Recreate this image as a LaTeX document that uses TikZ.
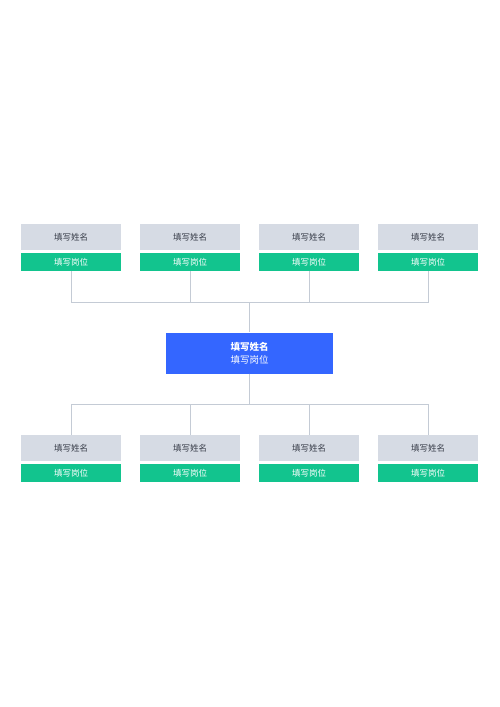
\documentclass[tikz,border=0pt]{standalone}
\usepackage{fontspec}
\newfontfamily\cjk{Noto Sans CJK SC}
\usetikzlibrary{positioning}

\definecolor{namegray}{RGB}{214,219,228}
\definecolor{postgreen}{RGB}{18,196,142}
\definecolor{bossblue}{RGB}{52,102,255}
\definecolor{linegray}{RGB}{196,203,213}
\definecolor{textdark}{RGB}{55,60,72}

\begin{document}
\begin{tikzpicture}[x=1pt,y=-1pt,font=\cjk\fontsize{8.5}{10}\selectfont,
    namebox/.style={fill=namegray,text=textdark,minimum width=100pt,minimum height=26pt,inner sep=0pt},
    postbox/.style={fill=postgreen,text=white,minimum width=100pt,minimum height=18pt,inner sep=0pt},
    bossbox/.style={fill=bossblue,text=white,minimum width=167pt,minimum height=41pt,inner sep=0pt,align=center,
      font=\cjk\fontsize{9.5}{13}\selectfont},
    link/.style={draw=linegray,line width=0.9pt}]
  \useasboundingbox (0,0) rectangle (500,707);

  % top row
  \foreach \i/\x in {1/71,2/190,3/309,4/428} {
    \node[namebox] (tn\i) at (\x,237) {填写姓名};
    \node[postbox] (tp\i) at (\x,262) {填写岗位};
  }

  % centre box
  \node[bossbox] (boss) at (249.5,353) {{\bfseries 填写姓名}\\填写岗位};

  % bottom row
  \foreach \i/\x in {1/71,2/190,3/309,4/428} {
    \node[namebox] (bn\i) at (\x,448) {填写姓名};
    \node[postbox] (bp\i) at (\x,473) {填写岗位};
  }

  \coordinate (jt) at (249.5,302);
  \coordinate (jb) at (249.5,404);

  % connectors
  \foreach \i in {1,...,4} {
    \draw[link] (tp\i.south) |- (jt);
    \draw[link] (jb) -| (bn\i.north);
  }
  \draw[link] (jt) -- (boss.north);
  \draw[link] (boss.south) -- (jb);
\end{tikzpicture}
\end{document}
